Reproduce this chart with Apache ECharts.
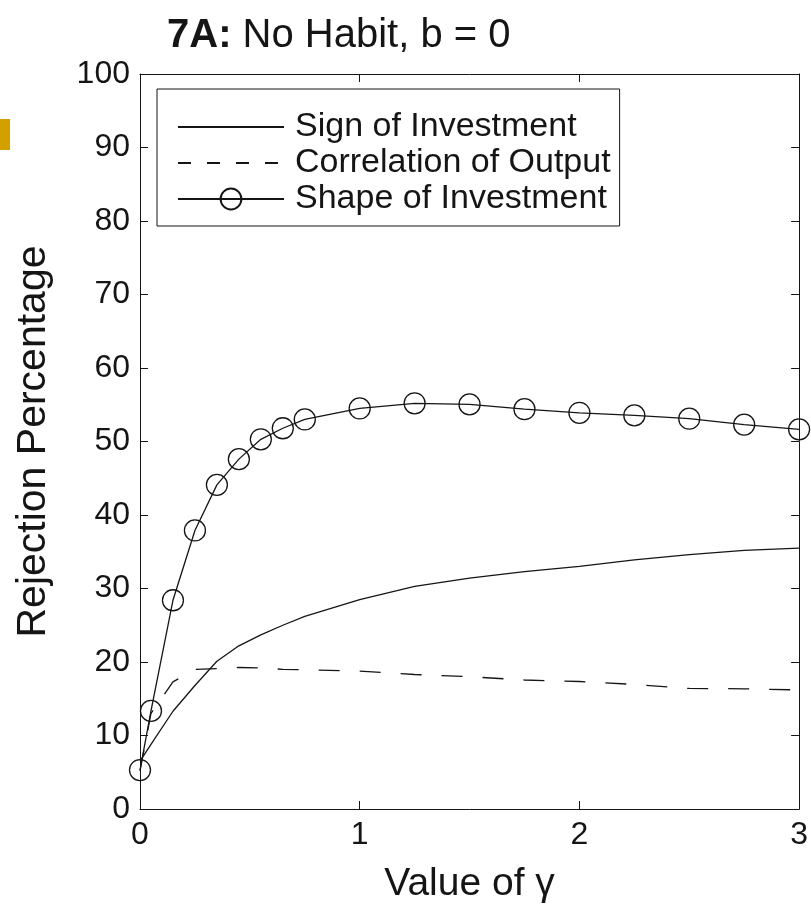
<!DOCTYPE html>
<html>
<head>
<meta charset="utf-8">
<script src="https://cdn.jsdelivr.net/npm/echarts@6/dist/echarts.min.js"></script>
<style>html,body{margin:0;padding:0;background:#fff;}#c{width:811px;height:909px;}</style>
</head>
<body>
<div id="c"></div>
<script>
const gammaValues = [0, 0.05, 0.15, 0.25, 0.35, 0.45, 0.55, 0.65, 0.75, 1.0, 1.25, 1.5, 1.75, 2.0, 2.25, 2.5, 2.75, 3.0];
const signOfInvestment = [6.5, 8.8, 13.3, 16.8, 20.1, 22.2, 23.7, 25.0, 26.2, 28.5, 30.3, 31.4, 32.3, 33.0, 33.9, 34.6, 35.2, 35.5];
const correlationOfOutput = [5.2, 13.0, 17.3, 19.0, 19.1, 19.25, 19.2, 19.0, 18.95, 18.75, 18.3, 18.0, 17.55, 17.35, 16.95, 16.4, 16.35, 16.2];
const shapeOfInvestment = [5.3, 13.35, 28.4, 37.9, 44.1, 47.6, 50.3, 51.8, 53.0, 54.5, 55.2, 55.05, 54.4, 53.9, 53.55, 53.1, 52.3, 51.65];
const xTicks = [0, 1, 2, 3];
const yTicks = [0, 10, 20, 30, 40, 50, 60, 70, 80, 90, 100];
const seriesNames = ['Sign of Investment', 'Correlation of Output', 'Shape of Investment'];

const FONT = "'Liberation Sans', Arial, Helvetica, sans-serif";
const INK = '#151515';
const pairs = arr => gammaValues.map((g, i) => [g, arr[i]]);

const chart = echarts.init(document.getElementById('c'), null, {renderer: 'canvas'});
const tickCommon = {show: true, inside: true, length: 8, lineStyle: {color: INK, width: 1}};
const hiddenSymbol = {color: 'rgba(0,0,0,0)', borderColor: 'rgba(0,0,0,0)', borderWidth: 0};
chart.setOption({
  animation: false,
  backgroundColor: '#fff',
  title: {
    text: '{b|7A:}{n| No Habit, b = 0}',
    left: 162, top: 11,
    textStyle: {
      rich: {
        b: {fontFamily: FONT, fontSize: 40, fontWeight: 'bold', color: INK},
        n: {fontFamily: FONT, fontSize: 40, fontWeight: 'normal', color: INK}
      }
    }
  },
  graphic: [{type: 'rect', shape: {x: 0, y: 119, width: 10, height: 31}, style: {fill: '#D4A000'}}],
  legend: {
    orient: 'vertical',
    left: 157, top: 89,
    padding: [20, 9, 9, 20],
    borderColor: INK, borderWidth: 1,
    itemWidth: 106, itemHeight: 26, itemGap: 0,
    textStyle: {fontFamily: FONT, fontSize: 34, color: INK, lineHeight: 36, padding: [0, 0, 0, 6]},
    data: [
      {name: seriesNames[0], itemStyle: hiddenSymbol},
      {name: seriesNames[1], itemStyle: hiddenSymbol, lineStyle: {type: [13, 16]}},
      {name: seriesNames[2]}
    ]
  },
  grid: {left: 140, top: 74, width: 661, height: 737},
  xAxis: [{
    type: 'value', min: 0, max: 3, interval: 1, position: 'bottom',
    axisLine: {show: true, lineStyle: {color: INK, width: 1}},
    axisTick: tickCommon, splitLine: {show: false},
    axisLabel: {fontFamily: FONT, fontSize: 32, color: INK, margin: 10,
      customValues: xTicks},
    name: 'Value of γ', nameLocation: 'middle', nameGap: 56,
    nameTextStyle: {fontFamily: FONT, fontSize: 39, color: INK}
  }, {
    type: 'value', min: 0, max: 3, interval: 1, position: 'top',
    axisLine: {show: true, onZero: false, lineStyle: {color: INK, width: 1}},
    axisTick: tickCommon, axisLabel: {show: false}, splitLine: {show: false}
  }],
  yAxis: [{
    type: 'value', min: 0, max: 100, interval: 10, position: 'left',
    axisLine: {show: true, lineStyle: {color: INK, width: 1}},
    axisTick: tickCommon, splitLine: {show: false},
    axisLabel: {fontFamily: FONT, fontSize: 32, color: INK, margin: 10,
      customValues: yTicks},
    name: 'Rejection Percentage', nameLocation: 'middle', nameGap: 86,
    nameTextStyle: {fontFamily: FONT, fontSize: 41, color: INK}
  }, {
    type: 'value', min: 0, max: 100, interval: 10, position: 'right',
    axisLine: {show: true, onZero: false, lineStyle: {color: INK, width: 1}},
    axisTick: tickCommon, axisLabel: {show: false}, splitLine: {show: false}
  }],
  series: [{
    name: seriesNames[0], type: 'line', data: pairs(signOfInvestment),
    showSymbol: false, symbol: 'none', lineStyle: {color: INK, width: 1.3}, itemStyle: {color: INK}
  }, {
    name: seriesNames[1], type: 'line', data: pairs(correlationOfOutput),
    showSymbol: false, symbol: 'none', lineStyle: {color: INK, width: 1.3, type: [21, 20]}, itemStyle: {color: INK}
  }, {
    name: seriesNames[2], type: 'line', data: pairs(shapeOfInvestment),
    symbol: 'circle', symbolSize: 21, showSymbol: true,
    lineStyle: {color: INK, width: 1.3},
    itemStyle: {color: 'rgba(0,0,0,0)', borderColor: INK, borderWidth: 1.3}
  }]
});
</script>
</body>
</html>
